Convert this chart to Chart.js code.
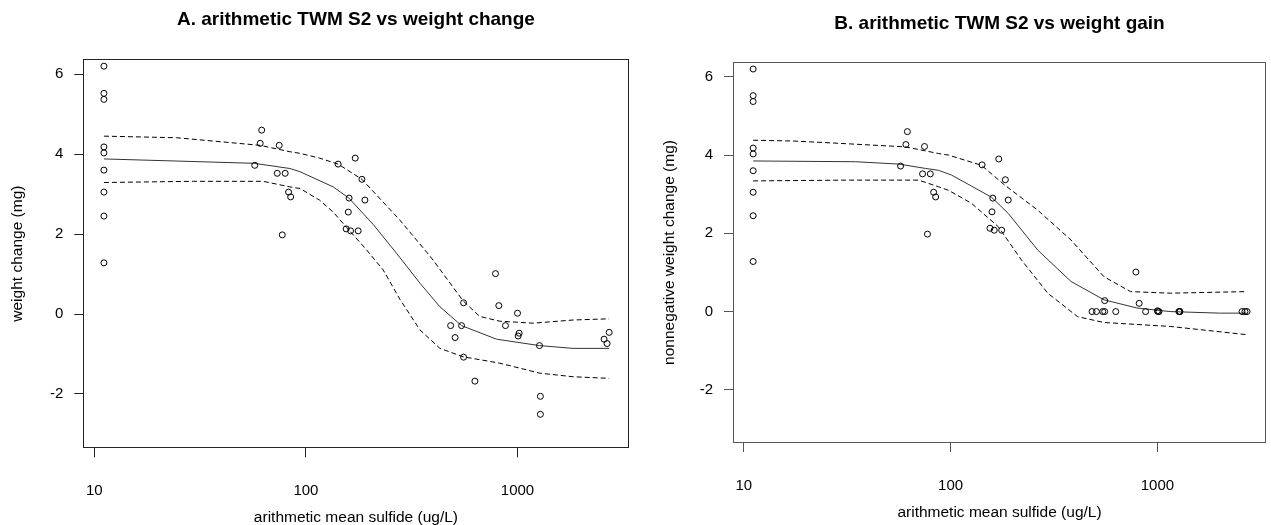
<!DOCTYPE html>
<html>
<head>
<meta charset="utf-8">
<script src="https://cdn.jsdelivr.net/npm/chart.js@4/dist/chart.umd.min.js"></script>
<style>
  html, body { margin: 0; padding: 0; background: #fff; }
  #wrap { position: relative; width: 1271px; height: 525px; }
  .panel { position: absolute; top: 0; }
  #panel-a { left: 0; width: 640px; height: 525px; }
  #panel-b { left: 640px; width: 631px; height: 525px; }
</style>
</head>
<body>
<div id="wrap">
  <div class="panel" id="panel-a"><canvas id="chart-a" width="640" height="525"></canvas></div>
  <div class="panel" id="panel-b"><canvas id="chart-b" width="631" height="525"></canvas></div>
</div>
<script>
// sulfide (ug/L) for each exposure chamber, same order in both panels
const SULFIDE = [
  11.1, 11.1, 11.1, 11.1, 11.1, 11.1, 11.1, 11.1, 11.1,
  57.3, 61.8, 60.8, 74.8, 73.2, 79.8, 82.8, 84.7, 77.3,
  142, 171, 184, 160, 190, 158.6, 155, 162.6, 176.6, 787,
  556, 816, 1000, 483, 544, 877, 507, 1018, 1007, 1270, 556, 629, 1283, 1283, 2712, 2565, 2651,
];
// weight change (mg)
const WEIGHT_CHANGE = [
  6.2, 5.52, 5.37, 4.18, 4.03, 3.6, 3.05, 2.45, 1.28,
  3.72, 4.6, 4.27, 4.22, 3.52, 3.52, 3.05, 2.93, 1.98,
  3.75, 3.9, 3.37, 2.9, 2.85, 2.55, 2.13, 2.08, 2.08, 1.01,
  0.28, 0.21, 0.02, -0.29, -0.29, -0.29, -0.59, -0.48, -0.55, -0.79, -1.08, -1.68, -2.06, -2.51, -0.46, -0.63, -0.74,
];
// weight gain: losses recorded as zero
const WEIGHT_GAIN = [
  6.2, 5.52, 5.37, 4.18, 4.03, 3.6, 3.05, 2.45, 1.28,
  3.72, 4.6, 4.27, 4.22, 3.52, 3.52, 3.05, 2.93, 1.98,
  3.75, 3.9, 3.37, 2.9, 2.85, 2.55, 2.13, 2.08, 2.08, 1.01,
  0.28, 0.21, 0.02, 0, 0, 0, 0, 0, 0, 0, 0, 0, 0, 0, 0, 0, 0,
];

// fitted curve + confidence band, panel A
const A_FIT_X   = [11.1, 57, 84, 93.8, 134.6, 159.6, 208, 268, 346, 430, 544, 796, 1270, 1832, 2710];
const A_FIT_Y   = [3.88, 3.77, 3.64, 3.56, 3.18, 2.9, 2.24, 1.52, 0.77, 0.18, -0.29, -0.63, -0.79, -0.86, -0.86];
const A_UPPER_X = [11.1, 24.5, 60.7, 84, 93.8, 116, 142, 184, 278, 365, 399, 553, 662, 825, 1186, 1832, 2710];
const A_UPPER_Y = [4.45, 4.41, 4.22, 4.06, 4.02, 3.9, 3.75, 3.37, 2.35, 1.6, 1.35, 0.33, -0.06, -0.18, -0.23, -0.15, -0.12];
const A_LOWER_X = [11.1, 29.4, 62.8, 84, 93.8, 116, 134.6, 155.6, 193.8, 232, 278, 346, 430, 553, 825, 1274, 1832, 2710];
const A_LOWER_Y = [3.29, 3.32, 3.32, 3.18, 3.14, 2.85, 2.55, 2.17, 1.6, 1.1, 0.37, -0.4, -0.86, -1.07, -1.23, -1.48, -1.57, -1.61];

// fitted curve + confidence band, panel B
const B_FIT_X   = [11.1, 34.8, 56.2, 75.5, 87.5, 101, 126, 158, 190, 264, 382, 552, 798, 1153, 2004, 2692];
const B_FIT_Y   = [3.85, 3.83, 3.77, 3.66, 3.61, 3.49, 3.21, 2.92, 2.51, 1.57, 0.77, 0.3, 0.09, 0.0, -0.04, -0.04];
const B_UPPER_X = [11.1, 17.3, 26.9, 60.6, 87.5, 97.7, 141, 183, 264, 382, 552, 741, 1153, 2692];
const B_UPPER_Y = [4.38, 4.36, 4.31, 4.21, 4.04, 4.0, 3.74, 3.23, 2.59, 1.83, 0.89, 0.51, 0.47, 0.51];
const B_LOWER_X = [11.1, 31.2, 70.1, 87.5, 97.7, 126, 170, 220, 295, 411, 552, 1153, 2692];
const B_LOWER_Y = [3.34, 3.36, 3.36, 3.19, 3.1, 2.77, 2.17, 1.32, 0.47, -0.13, -0.28, -0.38, -0.59];

const X_TICKS = [10, 100, 1000];
const Y_TICKS = [-2, 0, 2, 4, 6];
const X_MIN = 8.87, X_MAX = 3350;
const Y_MIN = -3.36, Y_MAX = 6.38;

const FONT = "'Liberation Sans', Arial, Helvetica, sans-serif";
const pts = (xs, ys) => xs.map((x, i) => ({ x, y: ys[i] }));

// R-style box round the plotting region
const framePlugin = {
  id: 'frame',
  afterDatasetsDraw(chart, args, opts) {
    const { ctx, chartArea: a } = chart;
    const l = Math.round(a.left) + 0.5, t = Math.round(a.top) + 0.5;
    const r = Math.round(a.right) - 0.5, b = Math.round(a.bottom) - 0.5;
    ctx.save();
    ctx.strokeStyle = opts.color || '#000';
    ctx.lineWidth = 1;
    ctx.strokeRect(l, t, r - l, b - t);
    ctx.restore();
  },
};

function panel(canvasId, p) {
  const curve = (data, dashed) => ({
    data,
    showLine: true,
    borderColor: dashed ? '#000' : '#333',
    borderWidth: 1,
    borderDash: dashed ? [5, 3] : [],
    pointRadius: 0,
    fill: false,
  });
  const tickGrid = { display: true, drawOnChartArea: false, drawTicks: true, tickLength: 9, color: p.axisColor, lineWidth: 1 };

  return new Chart(document.getElementById(canvasId), {
    type: 'scatter',
    data: {
      datasets: [
        {
          data: pts(SULFIDE, p.y),
          pointStyle: 'circle',
          pointRadius: 3,
          pointBorderWidth: 1,
          pointBorderColor: '#000',
          pointBackgroundColor: 'rgba(0,0,0,0)',
        },
        curve(pts(p.fitX, p.fitY), false),
        curve(pts(p.upX, p.upY), true),
        curve(pts(p.loX, p.loY), true),
      ],
    },
    plugins: [framePlugin],
    options: {
      responsive: false,
      animation: false,
      events: [],
      layout: { padding: { left: 0, right: p.padRight, top: 0, bottom: 0 } },
      plugins: {
        legend: { display: false },
        tooltip: { enabled: false },
        frame: { color: p.axisColor },
        title: {
          display: true,
          fullSize: false,
          text: p.title,
          color: '#000',
          font: { family: FONT, size: 19, weight: 'bold', lineHeight: 1.2 },
          padding: { top: p.titleTop, bottom: p.titleBottom },
        },
      },
      scales: {
        x: {
          type: 'logarithmic',
          min: X_MIN,
          max: X_MAX,
          afterBuildTicks: s => { s.ticks = X_TICKS.map(v => ({ value: v })); },
          afterFit: s => { s.height = p.xAxisH; },
          ticks: {
            color: '#000', autoSkip: false, maxRotation: 0, padding: p.xTickPad,
            font: { family: FONT, size: 15 },
            callback: v => String(v),
          },
          grid: tickGrid,
          border: { display: false },
          title: {
            display: true, text: 'arithmetic mean sulfide (ug/L)', color: '#000',
            font: { family: FONT, size: 15.5, lineHeight: 1 },
            padding: { top: 0, bottom: p.xTitlePad },
          },
        },
        y: {
          min: Y_MIN,
          max: Y_MAX,
          afterBuildTicks: s => { s.ticks = Y_TICKS.map(v => ({ value: v })); },
          afterFit: s => { s.width = p.yAxisW; },
          ticks: {
            color: '#000', padding: 11,
            font: { family: FONT, size: 15 },
            callback: v => String(v),
          },
          grid: tickGrid,
          border: { display: false },
          title: {
            display: true, text: p.yTitle, color: '#000',
            font: { family: FONT, size: 15.5, lineHeight: 1.2 },
            padding: { top: p.yTitlePad, bottom: 0 },
          },
        },
      },
    },
  });
}

panel('chart-a', {
  title: 'A. arithmetic TWM S2 vs weight change',
  yTitle: 'weight change (mg)',
  y: WEIGHT_CHANGE,
  fitX: A_FIT_X, fitY: A_FIT_Y, upX: A_UPPER_X, upY: A_UPPER_Y, loX: A_LOWER_X, loY: A_LOWER_Y,
  axisColor: '#222',
  padRight: 11.4, yAxisW: 83.3, xAxisH: 76.7,
  titleTop: 8.6, titleBottom: 27.6,
  xTickPad: 25, xTitlePad: 0, yTitlePad: 8.2,
});

panel('chart-b', {
  title: 'B. arithmetic TWM S2 vs weight gain',
  yTitle: 'nonnegative weight change (mg)',
  y: WEIGHT_GAIN,
  fitX: B_FIT_X, fitY: B_FIT_Y, upX: B_UPPER_X, upY: B_UPPER_Y, loX: B_LOWER_X, loY: B_LOWER_Y,
  axisColor: '#555',
  padRight: 1, yAxisW: 93, xAxisH: 82,
  titleTop: 12.1, titleBottom: 27.1,
  xTickPad: 25, xTitlePad: 4.5, yTitlePad: 20.7,
});
</script>
</body>
</html>
